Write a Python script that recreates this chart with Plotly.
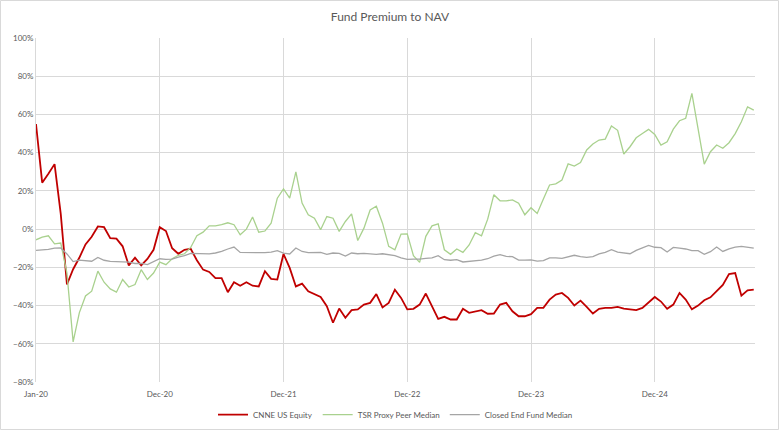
import plotly.graph_objects as go

# Period index (equal spacing, 20 observations between labelled ticks)
tick_positions = [0, 20, 40, 60, 80, 100]
tick_labels = ["Jan-20", "Dec-20", "Dec-21", "Dec-22", "Dec-23", "Dec-24"]

cnne = [55, 24.3, 29, 34, 8, -29, -21, -15, -8, -4, 1.4, 1, -4.7, -5, -9, -19, -15, -19, -15.6, -10.8,
        1, -1, -10, -12.9, -10.8, -10.3, -16.3, -21.2, -22.4, -25.6, -25.6, -33, -27.8, -29.6, -27.8, -29.6, -30, -22, -26, -26.4,
        -13, -20.3, -30, -28.5, -32.5, -34, -35.5, -40.3, -49, -41.6, -46.4, -42.4, -42, -39.5, -38.6, -34, -41, -38.6, -31.7, -36,
        -42, -41.7, -39.5, -33.7, -40.7, -47, -45.9, -47.3, -47.3, -41.7, -43.8, -43, -42.4, -44.3, -44.2, -39.5, -38.6, -43, -45.6, -45.6,
        -44.5, -41.2, -41.2, -36.9, -34.3, -33.4, -36, -40, -37.4, -40.7, -44.2, -41.7, -41.2, -41.2, -40.7, -41.6, -42, -42.4, -41.2, -38.3,
        -35.5, -37.9, -41.7, -39.5, -33.4, -36.9, -42, -40, -37.2, -35.7, -32.5, -29.2, -23.5, -23, -34.8, -32, -31.7]

tsr_peer = [-5.6, -4.2, -3.5, -7.7, -7.3, -23, -59, -43.8, -35, -32.5, -22, -27.8, -31.3, -33, -26.4, -30.3, -29, -21.2, -26.4, -23,
            -17.3, -18.6, -15.5, -13.7, -12.9, -9.6, -3.5, -1.6, 1.7, 1.7, 2.3, 3.3, 2.3, -3, 0, 6.3, -1.6, -1, 3.1, 16.2,
            21, 16.2, 30, 13.6, 7.5, 5.7, -0.3, 6.6, 5.7, -1.2, 4, 8, -6, 0.5, 10, 12, 3.1, -9, -10.8, -2.6,
            -2.5, -13.9, -17.4, -3.8, 1.7, 2.8, -10.8, -13.2, -10.4, -12.2, -8.3, -1.9, -3.5, 5.2, 18, 14.8, 14.8, 15.3, 13.6, 7.5,
            11.2, 8.2, 15.7, 23.1, 23.7, 25.7, 34.1, 33, 34.8, 41.4, 44.5, 46.6, 47.1, 54, 51.7, 39.3, 43.1, 47.8, 50, 52.2,
            49.5, 44, 45.7, 52.3, 56.7, 58, 71, 52, 34, 40.5, 44, 42.3, 45.2, 50, 56.2, 64, 62.3]

closed_end = [-11.1, -11, -10.6, -10, -9.9, -13, -17, -16.2, -16.5, -16.8, -14.8, -16.3, -16.9, -17, -17, -17.3, -18, -17.9, -18.6, -17.2,
              -15.5, -15.8, -15.7, -14.6, -13.9, -12.7, -12.9, -12.9, -13, -12.5, -11.7, -10.4, -9.4, -12.2, -12.3, -12.3, -12.3, -12.3, -12, -11.3,
              -12.6, -13, -9.9, -11.7, -12.3, -12.2, -12.2, -13.2, -12.5, -12.7, -14.1, -12.5, -12.9, -12.7, -13, -13.2, -12.9, -13.4, -13.9, -15.1,
              -15.8, -15.7, -15.7, -15.3, -15.1, -13.9, -16, -16.3, -16, -17.2, -16.9, -16.7, -16.2, -15.5, -14.1, -13.4, -14.3, -14.4, -16.2, -16.2,
              -16.1, -16.7, -16.5, -15.1, -15, -15.3, -14.4, -13.7, -14.4, -14.8, -14.4, -13, -12.2, -10.8, -12, -12.3, -12.9, -11.1, -9.6, -8.5,
              -9.5, -9.7, -12, -9.6, -9.9, -10.4, -11.3, -11.3, -13.2, -11.8, -9.4, -11.7, -10.3, -9.4, -9, -9.4, -9.9]

x_idx = list(range(len(cnne)))

fig = go.Figure()
fig.add_trace(go.Scatter(x=x_idx, y=cnne, mode="lines", name="CNNE US Equity",
                         line=dict(color="#C00000", width=1.8)))
fig.add_trace(go.Scatter(x=x_idx, y=tsr_peer, mode="lines", name="TSR Proxy Peer Median",
                         line=dict(color="#A9D18E", width=1.3)))
fig.add_trace(go.Scatter(x=x_idx, y=closed_end, mode="lines", name="Closed End Fund Median",
                         line=dict(color="#A5A5A5", width=1.3)))

font_family = "Lato, Open Sans, sans-serif"

fig.update_layout(
    width=780, height=431,
    margin=dict(l=36, r=25, t=38, b=49, autoexpand=False),
    paper_bgcolor="white", plot_bgcolor="white",
    title=dict(text="Fund Premium to NAV", x=0.5, xanchor="center", y=0.96, yanchor="middle",
               font=dict(family=font_family, size=12, color="#595959")),
    showlegend=True,
    legend=dict(orientation="h", x=0.5, xanchor="center", y=-0.095, yanchor="middle",
                font=dict(family=font_family, size=8, color="#595959"),
                itemwidth=30, tracegroupgap=0),
    font=dict(family=font_family, size=8, color="#595959"),
)

fig.update_xaxes(
    range=[0, 116.2], tickmode="array", tickvals=tick_positions, ticktext=tick_labels,
    showgrid=True, gridcolor="#D9D9D9", gridwidth=1, automargin=False,
    showline=False, zeroline=False, ticks="", ticklabelstandoff=6,
    tickfont=dict(family=font_family, size=8, color="#595959"),
)
fig.update_yaxes(
    range=[-80, 100], dtick=20, tick0=0, ticksuffix="%", automargin=False,
    showgrid=True, gridcolor="#D9D9D9", gridwidth=1,
    showline=True, linecolor="#D9D9D9", linewidth=1,
    zeroline=True, zerolinecolor="#D9D9D9", zerolinewidth=1, ticks="",
    tickfont=dict(family=font_family, size=8, color="#595959"),
)

# light outer frame around the whole chart area
fig.add_shape(type="rect", xref="paper", yref="paper",
              x0=-35.5 / 719, x1=1 + 23.5 / 719, y0=-47.5 / 344, y1=1 + 37.5 / 344,
              line=dict(color="#D9D9D9", width=1), fillcolor="rgba(0,0,0,0)", layer="below")

fig.write_html("out.html", config={"displayModeBar": False},
               post_script="document.body.style.margin='0';document.body.style.overflow='hidden';")
